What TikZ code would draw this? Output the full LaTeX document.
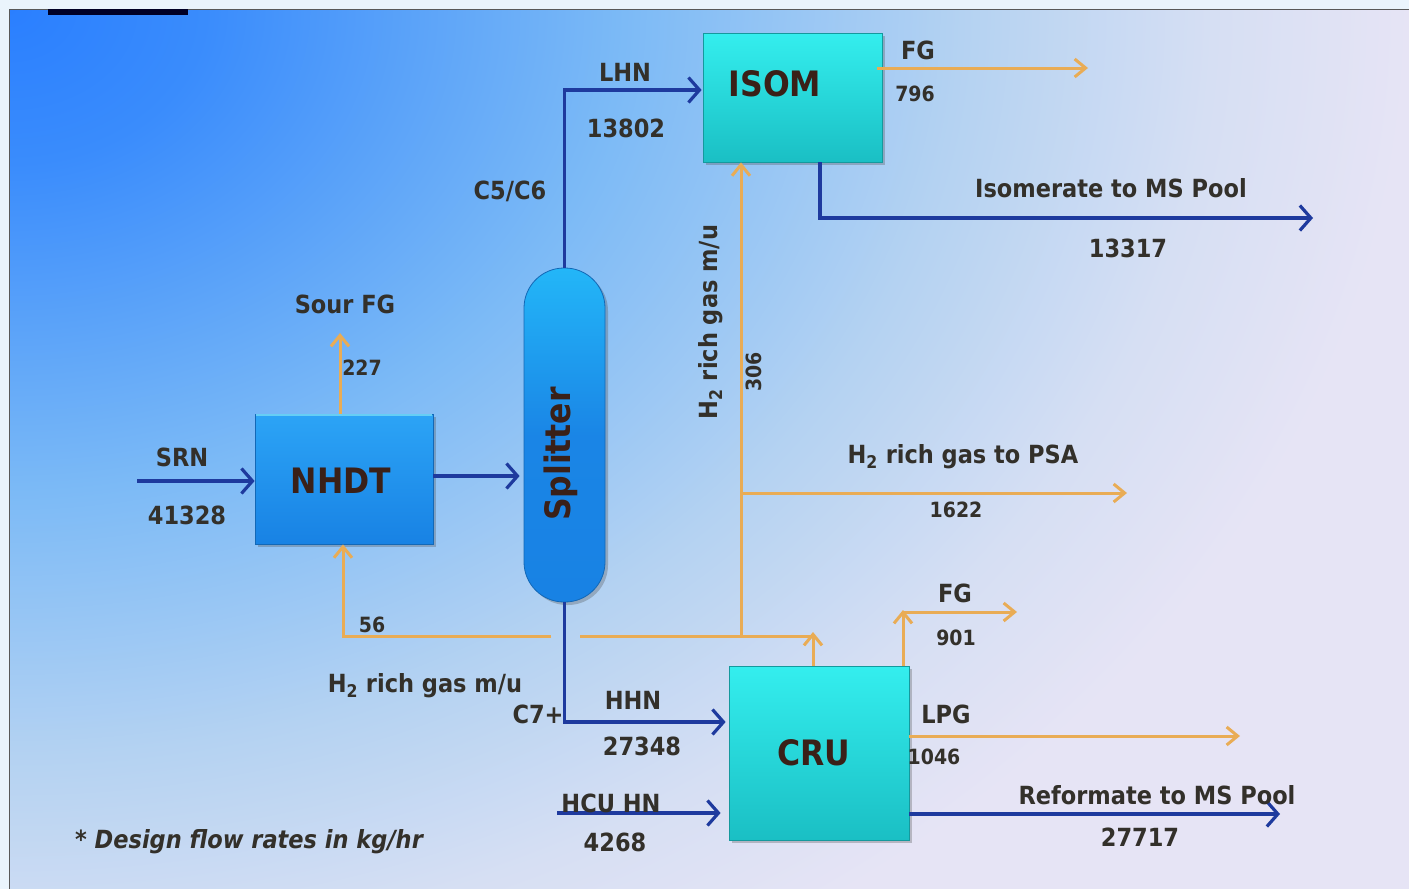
\documentclass[tikz,border=0pt]{standalone}
\usepackage{fontspec}
\setmainfont{DejaVu Sans Condensed}
\usetikzlibrary{arrows.meta,shadows}
\definecolor{navy}{HTML}{1E3A9E}
\definecolor{orng}{HTML}{E9AC55}
\definecolor{txt}{HTML}{33302A}
\definecolor{utxt}{HTML}{3A2018}
\definecolor{margin}{HTML}{EAF4FC}
\definecolor{bgA}{HTML}{2A7FFF}
\definecolor{bgB}{HTML}{3A8CFC}
\definecolor{bgC}{HTML}{7CBAF6}
\definecolor{bgD}{HTML}{B4D2F2}
\definecolor{bgE}{HTML}{D6DFF3}
\definecolor{bgF}{HTML}{E6E4F5}
\definecolor{nhT}{HTML}{2CA4F6}
\definecolor{nhB}{HTML}{1882E4}
\definecolor{cyT}{HTML}{34EEEE}
\definecolor{cyB}{HTML}{1ABFC4}
\pgfdeclareradialshading{slidebg}{\pgfpoint{0bp}{0bp}}{color(0bp)=(bgA); color(3.5bp)=(bgB); color(11bp)=(bgC); color(17bp)=(bgD); color(21.5bp)=(bgE); color(25bp)=(bgF); color(50bp)=(bgF)}
\begin{document}
\begin{tikzpicture}[x=1pt,y=-1pt,
  lab/.style={font=\fontsize{25}{28}\selectfont\bfseries, text=txt, inner sep=0pt},
  sm/.style={font=\fontsize{21}{24}\selectfont\bfseries, text=txt, inner sep=0pt},
  utext/.style={font=\fontsize{35}{40}\selectfont\bfseries, text=utxt, inner sep=0pt},
  unitbox/.style={draw=#1, line width=0.8pt, inner sep=0pt,
     drop shadow={shadow xshift=3pt,shadow yshift=-3pt,opacity=0.3,fill=black!70}},
  blu/.style={draw=navy, line width=3.2pt},
  org/.style={draw=orng, line width=3pt},
  btip/.style={-{Straight Barb[length=11pt,width=25pt]}},
  otip/.style={-{Straight Barb[length=11pt,width=18pt]}}]
% background
\useasboundingbox (0,0) rectangle (1409,889);
\fill[margin] (0,0) rectangle (1409,889);
\begin{scope}
\clip (9,9) rectangle (1409,889);
\fill[bgF] (9,9) rectangle (1409,889);
\shade[shading=slidebg] (9,9) ellipse [x radius=1400, y radius=1100];
\end{scope}
\draw[black!65, line width=0.8pt] (9,889) -- (9,9) -- (1409,9);
\fill[black!85!blue] (48,9) rectangle (188,15);

% units
\node[unitbox=nhB!80!black, top color=nhT, bottom color=nhB, minimum width=178pt, minimum height=130pt] (nhdt) at (344,479) {};
\draw[cyan!60!white, line width=2pt] ([yshift=-1.5pt,xshift=1pt]nhdt.north west) -- ([yshift=-1.5pt,xshift=-1pt]nhdt.north east);
\node[unitbox=cyB!80!black, top color=cyT, bottom color=cyB, minimum width=179pt, minimum height=129pt] (isom) at (792.5,97.5) {};
\node[unitbox=cyB!80!black, top color=cyT, bottom color=cyB, minimum width=180pt, minimum height=174pt] (cru) at (819,753) {};
\node[unitbox=nhB!80!black, rounded corners=40pt, top color=nhT!80!cyan, bottom color=nhB, middle color=nhB!90!nhT, minimum width=81pt, minimum height=334pt] (spl) at (564.5,435) {};

\node[utext] (tNHDT) at (341,481) {NHDT};
\node[utext] (tISOM) at (775,84) {ISOM};
\node[utext] (tCRU) at (814,753) {CRU};
\node[utext, rotate=90] (tSPL) at (561,454) {Splitter};

% free-end coordinates
\coordinate (srnS) at (137,481);
\coordinate (hcuS) at (557,813);
\coordinate (isoE) at (1313,218);
\coordinate (refE) at (1280,814);
\coordinate (sourE) at (340,333);
\coordinate (fgIE) at (1088,68);
\coordinate (psaE) at (1127,493);
\coordinate (h2J) at (741,636);
\coordinate (h2P) at (741,493);
\coordinate (cruUp) at (813,636);
\coordinate (leftA) at (580,636);
\coordinate (leftB) at (551,636);
\coordinate (fgC) at (903,612);
\coordinate (fgCE) at (1017,612);
\coordinate (lpgE) at (1240,736);

% blue streams
\draw[blu,btip] (srnS) -- (srnS -| nhdt.west);
\draw[blu,btip,shorten >=4pt] (nhdt.east |- 0,476) -- (spl.west |- 0,476);
\draw[blu,btip,shorten >=1pt] (spl.north) |- (isom.west |- 0,90);
\draw[blu,btip,shorten >=3pt] (spl.south) |- (cru.west |- 0,722);
\draw[blu,btip,shorten >=8pt] (hcuS) -- (hcuS -| cru.west);
\draw[blu,btip] (isom.south -| 820,0) |- (isoE);
\draw[blu,btip] (cru.east |- refE) -- (refE);

% orange streams
\draw[org,otip] (nhdt.north -| sourE) -- (sourE);
\draw[org,otip] ([xshift=-5pt]isom.east |- fgIE) -- (fgIE);
\draw[org,otip] (h2J) -- (isom.south -| h2J);
\draw[org,otip] (h2P) -- (psaE);
\draw[org,otip] (cru.north -| cruUp) -- ([yshift=4pt]cruUp);
\draw[org] (cruUp) -- (leftA);
\draw[org,otip] (leftB) -| (nhdt.south -| 343,0);
\draw[org,otip] (cru.north -| fgC) -- ([yshift=2pt]fgC);
\draw[org,otip] (fgC) -- (fgCE);
\draw[org,otip] (cru.east |- lpgE) -- (lpgE);

% labels
\node[lab] (lSRN) at (182,457) {SRN};
\node[lab] (nSRN) at (187,515) {41328};
\node[lab] (lSour) at (345,304) {Sour FG};
\node[sm] (nSour) at (362,368) {227};
\node[sm] (n56) at (372,625) {56};
\node[lab] (lH2L) at (425,686) {H\textsubscript{2} rich gas m/u};
\node[lab] (lC7) at (538,714) {C7+};
\node[lab] (lHHN) at (633,700) {HHN};
\node[lab] (nHHN) at (642,746) {27348};
\node[lab] (lHCU) at (611,803) {HCU HN};
\node[lab] (nHCU) at (615,842) {4268};
\node[lab] (lC5) at (510,191) {C5/C6};
\node[lab] (lLHN) at (625,72) {LHN};
\node[lab] (nLHN) at (626,128) {13802};
\node[lab] (lFG1) at (918,50) {FG};
\node[sm] (nFG1) at (915,94) {796};
\node[lab] (lIso) at (1111,188) {Isomerate to MS Pool};
\node[lab] (nIso) at (1128,248) {13317};
\node[lab, rotate=90] (lH2V) at (711,322) {H\textsubscript{2} rich gas m/u};
\node[sm, rotate=90] (n306) at (754,372) {306};
\node[lab] (lPSA) at (963,457) {H\textsubscript{2} rich gas to PSA};
\node[sm] (nPSA) at (956,510) {1622};
\node[lab] (lFG2) at (955,593) {FG};
\node[sm] (nFG2) at (956,638) {901};
\node[lab] (lLPG) at (946,714) {LPG};
\node[sm] (nLPG) at (934,757) {1046};
\node[lab] (lRef) at (1157,795) {Reformate to MS Pool};
\node[lab] (nRef) at (1140,837) {27717};
\node[lab, font=\fontsize{25}{28}\selectfont\bfseries\itshape] (note) at (249,842) {* Design flow rates in kg/hr};
\end{tikzpicture}
\end{document}
